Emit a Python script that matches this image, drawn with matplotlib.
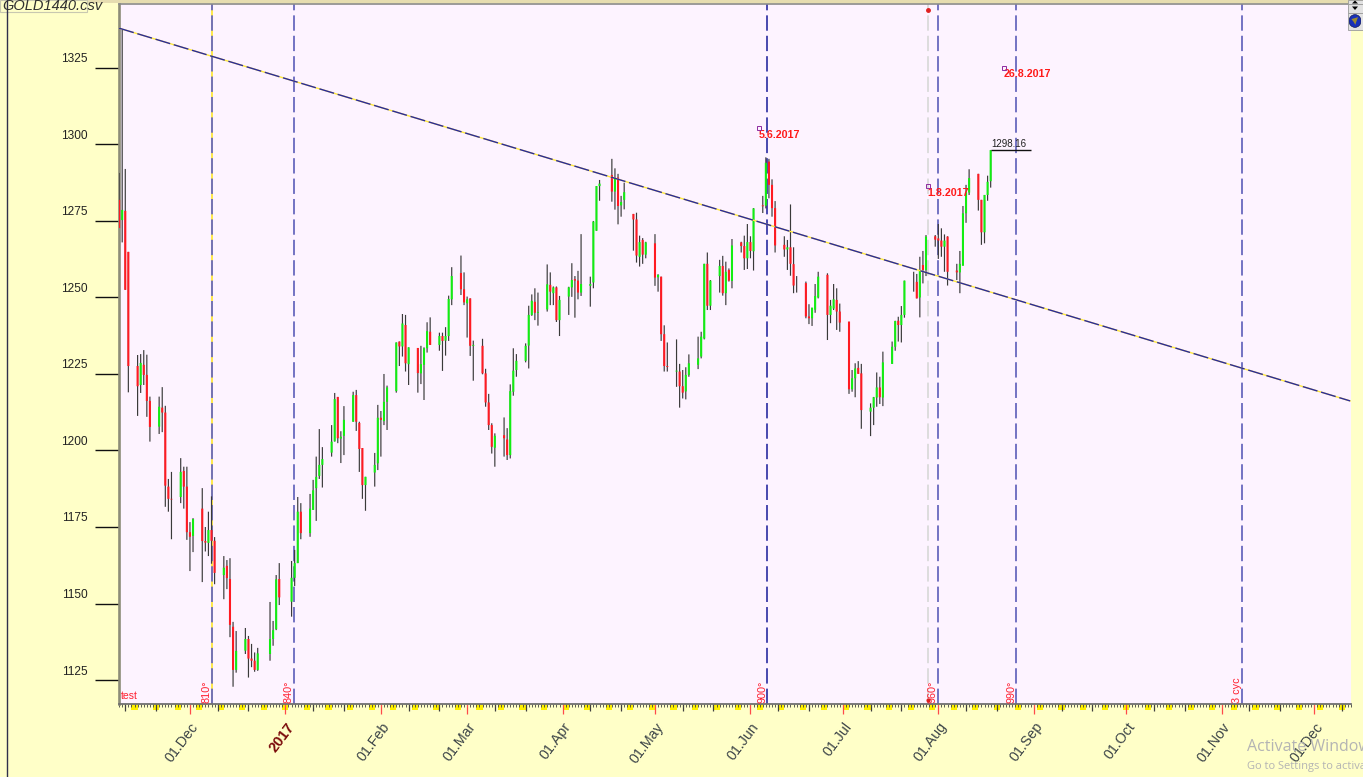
#!/usr/bin/env python3
# -*- coding: utf-8 -*-
import numpy as np
import pandas as pd
import matplotlib
matplotlib.use("Agg")
import matplotlib.pyplot as plt
import matplotlib.dates as mdates
from matplotlib.patches import Rectangle, Circle, Polygon
from matplotlib.transforms import ScaledTranslation

#%% Data, one line per trading week

holidays = ["2016-12-26", "2017-01-02", "2017-04-14"]
dates = pd.bdate_range("2016-11-08", "2017-08-18").drop(pd.to_datetime(holidays))

opens = [
    1281.9, 1275.3, 1278.3, 1264.9,
    1227.6, 1221.4, 1228.0, 1224.7, 1216.2,
    1207.8, 1214.0, 1212.4, 1188.2, 1184.2,
    1184.8, 1193.3, 1188.2, 1173.3, 1172.1,
    1181.0, 1170.4, 1169.8, 1174.0, 1170.5,
    1159.3, 1162.3, 1158.0, 1142.4, 1128.3,
    1134.6, 1138.4, 1132.0, 1131.3, 1128.3,
    1133.5, 1138.4, 1141.6, 1158.0,
    1150.6, 1158.4, 1163.2, 1180.0,
    1173.0, 1180.6, 1187.7, 1191.7, 1195.3,
    1199.3, 1203.0, 1217.5, 1203.9, 1204.8,
    1209.4, 1218.1, 1209.0, 1200.8, 1188.7,
    1192.8, 1195.8, 1210.7, 1209.6, 1215.9,
    1219.4, 1235.6, 1234.0, 1241.0, 1228.2,
    1233.5, 1225.2, 1228.0, 1233.4, 1238.8,
    1234.5, 1237.4, 1235.9, 1237.4, 1249.4,
    1258.0, 1252.7, 1248.1, 1249.7, 1234.2,
    1234.2, 1225.2, 1215.7, 1208.3, 1200.9,
    1205.0, 1203.6, 1198.5, 1219.2, 1226.3,
    1229.3, 1234.3, 1244.3, 1248.6, 1245.0,
    1246.1, 1254.1, 1251.4, 1253.3, 1242.6,
    1250.3, 1253.3, 1256.0, 1255.5, 1251.6,
    1253.8, 1254.9, 1271.8, 1286.4,
    1290.0, 1284.6, 1289.2, 1280.1, 1281.9,
    1277.3, 1275.5, 1263.3, 1268.8, 1264.0,
    1267.7, 1256.6, 1256.8, 1238.0, 1227.6,
    1225.8, 1225.8, 1221.0, 1219.3, 1224.7,
    1228.0, 1230.7, 1236.6, 1261.0, 1247.3,
    1257.0, 1260.3, 1251.4, 1259.0, 1255.4,
    1268.0, 1266.8, 1262.8, 1268.1, 1265.1,
    1280.1, 1280.0, 1294.4, 1286.8, 1279.2,
    1267.2, 1265.7, 1266.4, 1260.9, 1253.9,
    1254.7, 1243.8, 1243.2, 1246.0, 1250.0,
    1257.4, 1244.3, 1246.4, 1249.2, 1245.4,
    1242.1, 1220.0, 1223.6, 1227.0, 1225.2,
    1212.7, 1214.0, 1217.3, 1220.6, 1217.3,
    1228.3, 1233.9, 1242.4, 1241.0, 1244.3,
    1256.0, 1255.1, 1250.0, 1260.6, 1259.0,
    1270.0, 1269.3, 1268.6, 1266.6, 1269.9,
    1258.8, 1258.2, 1260.4, 1277.5, 1284.3,
    1290.4, 1281.9, 1271.3, 1283.5, 1288.0,
]
highs = [
    1290.7, 1337.4, 1292.0, 1264.9,
    1231.2, 1231.5, 1232.8, 1231.3, 1217.6,
    1217.6, 1220.7, 1214.6, 1190.7, 1193.0,
    1197.5, 1194.7, 1194.7, 1176.6, 1177.9,
    1187.7, 1175.0, 1180.0, 1185.0, 1171.7,
    1165.5, 1164.2, 1164.8, 1144.0, 1141.0,
    1142.0, 1139.4, 1136.8, 1134.0, 1135.5,
    1150.5, 1144.3, 1159.3, 1163.2,
    1163.9, 1167.5, 1184.8, 1182.8,
    1185.8, 1190.4, 1198.0, 1207.0, 1201.1,
    1208.3, 1218.8, 1217.5, 1206.3, 1214.5,
    1219.2, 1219.8, 1209.4, 1200.8, 1191.4,
    1199.2, 1214.9, 1212.9, 1225.0, 1221.2,
    1235.3, 1235.6, 1244.6, 1244.3, 1233.7,
    1233.5, 1234.2, 1233.7, 1241.9, 1243.5,
    1238.5, 1238.5, 1240.3, 1250.6, 1259.9,
    1263.7, 1258.2, 1250.3, 1249.7, 1235.9,
    1236.5, 1226.7, 1218.5, 1208.9, 1205.6,
    1210.8, 1207.3, 1221.6, 1233.4, 1231.5,
    1235.0, 1247.3, 1251.0, 1253.0, 1251.6,
    1260.8, 1258.2, 1253.6, 1253.6, 1250.5,
    1253.5, 1261.2, 1257.0, 1258.7, 1270.7,
    1256.8, 1275.0, 1286.4, 1288.4,
    1295.3, 1292.2, 1290.4, 1283.2, 1287.5,
    1277.3, 1277.7, 1270.2, 1269.4, 1268.2,
    1270.7, 1257.6, 1256.8, 1240.9, 1235.3,
    1236.3, 1228.3, 1226.3, 1227.2, 1231.4,
    1237.2, 1238.8, 1261.0, 1264.7, 1255.7,
    1262.3, 1263.6, 1261.7, 1259.5, 1269.1,
    1268.2, 1270.2, 1274.0, 1270.0, 1279.2,
    1283.2, 1295.8, 1295.3, 1288.6, 1281.5,
    1270.0, 1268.8, 1280.4, 1266.4, 1257.0,
    1255.2, 1247.8, 1246.4, 1254.4, 1258.4,
    1257.9, 1249.2, 1254.4, 1253.0, 1248.0,
    1242.1, 1226.3, 1228.5, 1229.2, 1228.3,
    1215.4, 1217.5, 1225.5, 1224.1, 1232.3,
    1235.6, 1242.4, 1243.7, 1247.2, 1255.5,
    1258.4, 1257.7, 1263.3, 1265.2, 1270.4,
    1270.4, 1274.0, 1272.6, 1270.6, 1270.0,
    1261.0, 1265.2, 1279.9, 1286.8, 1291.9,
    1290.4, 1281.9, 1283.5, 1289.8, 1298.2,
]
lows = [
    1272.7, 1268.0, 1252.5, 1219.0,
    1211.3, 1218.8, 1221.4, 1211.0, 1202.9,
    1205.4, 1206.0, 1181.6, 1180.0, 1171.0,
    1182.8, 1181.0, 1170.8, 1160.6, 1166.8,
    1157.0, 1167.0, 1165.5, 1163.0, 1156.3,
    1151.4, 1154.7, 1139.0, 1122.8, 1127.4,
    1133.5, 1125.8, 1129.2, 1127.7, 1128.0,
    1131.3, 1136.2, 1141.3, 1149.5,
    1145.7, 1155.7, 1163.2, 1171.0,
    1171.8, 1180.6, 1177.0, 1190.7, 1187.9,
    1198.0, 1202.9, 1202.4, 1195.9, 1198.5,
    1209.4, 1206.4, 1193.0, 1184.2, 1180.3,
    1188.2, 1193.6, 1198.0, 1208.3, 1206.7,
    1218.9, 1227.6, 1230.7, 1225.8, 1221.4,
    1218.9, 1221.7, 1216.5, 1232.0, 1234.5,
    1232.6, 1226.0, 1231.0, 1235.8, 1247.5,
    1250.8, 1247.5, 1236.9, 1230.9, 1222.8,
    1224.9, 1214.3, 1206.7, 1199.0, 1194.7,
    1198.0, 1196.9, 1197.4, 1217.9, 1224.1,
    1228.8, 1226.8, 1244.0, 1242.6, 1240.8,
    1245.4, 1247.5, 1247.5, 1242.0, 1237.4,
    1244.3, 1250.2, 1243.4, 1249.4, 1250.5,
    1247.0, 1253.0, 1271.8, 1281.6,
    1281.3, 1278.7, 1273.9, 1276.4, 1278.8,
    1265.3, 1261.4, 1260.1, 1261.0, 1262.8,
    1253.8, 1251.9, 1235.8, 1225.8, 1225.8,
    1220.8, 1214.0, 1217.0, 1216.7, 1224.1,
    1226.6, 1230.1, 1236.3, 1245.9, 1245.9,
    1251.6, 1250.6, 1247.5, 1255.2, 1253.0,
    1264.7, 1259.0, 1259.3, 1262.8, 1258.8,
    1277.6, 1279.1, 1282.4, 1276.4, 1264.7,
    1263.3, 1259.0, 1257.1, 1251.4, 1251.6,
    1243.2, 1241.3, 1240.7, 1245.0, 1249.7,
    1236.1, 1241.6, 1245.9, 1239.4, 1238.8,
    1218.5, 1219.2, 1217.4, 1225.3, 1207.1,
    1204.7, 1208.3, 1214.3, 1215.2, 1214.5,
    1228.3, 1232.6, 1235.6, 1235.3, 1243.4,
    1251.9, 1249.7, 1243.5, 1254.6, 1257.0,
    1266.6, 1262.6, 1263.3, 1258.4, 1253.9,
    1255.7, 1251.4, 1260.4, 1274.4, 1283.5,
    1278.4, 1267.2, 1267.7, 1281.6, 1285.9,
]
closes = [
    1272.7, 1278.6, 1252.5, 1227.6,
    1221.0, 1228.6, 1224.7, 1216.2, 1207.7,
    1214.3, 1212.4, 1188.5, 1184.2, 1184.0,
    1193.0, 1188.2, 1173.3, 1171.8, 1177.6,
    1170.4, 1169.9, 1174.0, 1170.5, 1160.0,
    1161.7, 1158.3, 1143.0, 1128.3, 1134.5,
    1138.4, 1132.0, 1131.3, 1128.3, 1133.7,
    1138.4, 1141.3, 1157.9, 1152.0,
    1158.4, 1163.2, 1180.0, 1173.0,
    1181.0, 1187.0, 1191.4, 1195.3, 1197.2,
    1202.9, 1216.8, 1204.0, 1204.5, 1210.0,
    1218.1, 1209.4, 1200.5, 1188.7, 1191.4,
    1195.3, 1210.7, 1210.0, 1215.9, 1220.6,
    1235.3, 1234.0, 1241.5, 1228.5, 1233.7,
    1225.3, 1228.2, 1233.4, 1239.0, 1234.5,
    1237.4, 1235.8, 1237.4, 1249.5, 1257.0,
    1252.7, 1248.4, 1249.4, 1234.2, 1234.5,
    1225.2, 1215.7, 1208.3, 1201.2, 1204.8,
    1204.0, 1198.5, 1219.4, 1226.1, 1229.3,
    1234.2, 1244.3, 1248.9, 1245.0, 1245.3,
    1254.3, 1251.9, 1253.3, 1242.6, 1249.2,
    1253.3, 1255.7, 1255.5, 1251.6, 1254.4,
    1254.4, 1274.8, 1286.4, 1287.2,
    1284.6, 1289.0, 1279.9, 1281.2, 1284.4,
    1275.5, 1263.7, 1268.1, 1264.0, 1268.0,
    1256.5, 1257.4, 1238.0, 1227.6, 1227.3,
    1226.1, 1221.0, 1218.9, 1224.7, 1228.5,
    1230.1, 1237.2, 1261.0, 1247.3, 1255.5,
    1260.3, 1251.4, 1258.4, 1255.5, 1267.0,
    1266.8, 1262.8, 1268.1, 1265.2, 1279.1,
    1279.8, 1294.0, 1286.8, 1279.2, 1267.0,
    1265.7, 1266.4, 1261.0, 1253.9, 1253.9,
    1243.8, 1243.2, 1246.7, 1250.5, 1256.8,
    1244.3, 1247.3, 1249.4, 1245.4, 1241.8,
    1220.0, 1223.6, 1226.8, 1225.0, 1213.2,
    1214.0, 1217.4, 1220.6, 1217.4, 1228.8,
    1233.9, 1242.3, 1241.0, 1244.3, 1255.5,
    1256.0, 1249.7, 1259.0, 1259.0, 1269.9,
    1268.9, 1268.6, 1266.6, 1268.6, 1258.4,
    1258.2, 1261.0, 1277.5, 1284.3, 1289.0,
    1281.9, 1271.3, 1283.5, 1287.8, 1298.16,
]

y_ticks = [1125, 1150, 1175, 1200, 1225, 1250, 1275, 1300, 1325]
month_ticks = ["2016-12-01", "2017-01-01", "2017-02-01", "2017-03-01", "2017-04-01", "2017-05-01",
               "2017-06-01", "2017-07-01", "2017-08-01", "2017-09-01", "2017-10-01", "2017-11-01",
               "2017-12-01"]
month_labels = ["01.Dec", "2017", "01.Feb", "01.Mar", "01.Apr", "01.May", "01.Jun", "01.Jul",
                "01.Aug", "01.Sep", "01.Oct", "01.Nov", "01.Dec"]

# cycle lines and their labels
cycle_dates = ["2016-12-08 03:00", "2017-01-03 18:00", "2017-06-06 12:00", "2017-07-31 20:00",
               "2017-08-26 08:00", "2017-11-07 17:00"]
cycle_labels = ["810°", "840°", "900°", "960°", "990°", "3 cyc"]
pivot_date = "2017-07-28 14:00"

trend_dates = ["2016-11-08", "2017-12-12 17:00"]
trend_prices = [1338.0, 1216.2]

note_texts = ["5.6.2017", "1.8.2017", "26.8.2017"]
note_dates = ["2017-06-03 14:00", "2017-07-28 10:00", "2017-08-22 02:00"]
note_prices = [1303.2, 1284.3, 1323.0]
last_price = 1298.16

#%% Figure

GREY_TEXT = "#3c4448"
LN = ["Liberation Sans Narrow", "Liberation Sans"]
plt.rcParams["font.family"] = ["Liberation Sans", "DejaVu Sans"]


def dnum(d):
    if isinstance(d, str):
        return mdates.date2num(pd.to_datetime(d))
    return mdates.date2num(pd.to_datetime(d, format="mixed"))


def fx(x):
    return x / 1363


def fy(y):
    return 1 - y / 777


fig = plt.figure(figsize=(13.63, 7.77), dpi=100, facecolor="#FFFFC8")
ax = fig.add_axes([fx(119), fy(704), fx(1351) - fx(119), fy(4) - fy(704)], facecolor="#FDF3FF")
ax.set_xlim(dnum("2016-12-01") - 71 / 3.082, dnum("2016-12-01") + 1161 / 3.082)
ax.set_ylim(1117.16, 1345.9)

#%% Bars

x = mdates.date2num(dates)
o = np.array(opens)
c = np.array(closes)
wicks = ax.vlines(x, lows, highs, color="#3a3a3a", lw=0.85, zorder=3)
wicks.set_snap(False)
body_colors = ["#12EE12" if cc >= oo else "#FF1A22" for oo, cc in zip(o, c)]
bodies = ax.vlines(x, o, c, color=body_colors, lw=1.5, zorder=4)
bodies.set_snap(False)
bodies.set_capstyle("butt")

#%% Lines

ax.plot(dnum(trend_dates), trend_prices, color="#FFE93C", lw=1.0, zorder=5)
ax.plot(dnum(trend_dates), trend_prices, color="#2A2A9C", lw=1.0, ls=(0, (11, 2.7)), zorder=5)

for i, (d, lab) in enumerate(zip(cycle_dates, cycle_labels)):
    if i == 0:
        ax.axvline(dnum(d), color="#FFE93C", lw=1.3, zorder=2)
    ax.axvline(dnum(d), color="#6868BE" if i != 2 else "#3A3AA8", lw=1.3, ls=(0, (8.5, 2.8)), zorder=2)
    ax.text(dnum(d), 0.0015, lab, rotation=90, color="#FF2030", fontsize=7.8, ha="right", va="bottom",
            transform=ax.get_xaxis_transform(), zorder=6)
ax.axvline(dnum(pivot_date), color="#DADADA", lw=1.3, ls=(0, (8.5, 2.8)), zorder=2)
ax.plot([dnum(pivot_date)], [1343.8], "o", color="#E02020", ms=2.5, zorder=6)
ax.plot([dnum(pivot_date)], [1118.6], "o", color="#E02020", ms=2.0, zorder=6)

for t, d, p in zip(note_texts, note_dates, note_prices):
    ax.text(dnum(d), p, t, color="#FF1A1A", fontsize=7.7, fontweight="bold", ha="left", va="center", zorder=7)
    ax.plot([dnum(d) + 0.2], [p + 2.1], "s", mfc="none", mec="#8E2AA0", ms=3, mew=0.7, zorder=7)

ax.hlines(last_price, dnum("2017-08-18"), dnum("2017-08-31"), color="#101010", lw=1.0, zorder=5)
ax.text(dnum("2017-08-18") + 0.2, last_price + 0.4, "1298.16", color="#202020", fontsize=7, family=LN,
        ha="left", va="bottom", zorder=6)
ax.text(0.0012, 0.0045, "test", color="#FF2030", fontsize=7.5, transform=ax.transAxes, ha="left", va="bottom")

#%% Axes

for s in ["right"]:
    ax.spines[s].set_visible(False)
ax.spines["left"].set_color("#8C8C78")
ax.spines["left"].set_linewidth(1.9)
ax.spines["bottom"].set_color("#707070")
ax.spines["bottom"].set_linewidth(1.3)
ax.spines["top"].set_color("#8A8A8A")
ax.spines["top"].set_linewidth(1.2)

ax.set_yticks(y_ticks)
ax.set_yticklabels([str(v) for v in y_ticks], fontsize=8.6, family=LN, color="#222222")
ax.tick_params(axis="y", length=17, width=1.0, color="#101010", pad=5.5)
for lab in ax.get_yticklabels():
    lab.set_transform(lab.get_transform() + ScaledTranslation(0, 0.10, fig.dpi_scale_trans))

ax.set_xticks(dnum(month_ticks))
ax.set_xticklabels(month_labels, rotation=53, ha="right", va="center", rotation_mode="anchor", fontsize=10.3, color=GREY_TEXT)
ax.tick_params(axis="x", which="major", length=7.5, width=0.9, color="#FF4A4A", pad=7)
for lab in ax.get_xticklabels():
    lab.set_transform(lab.get_transform() + ScaledTranslation(0.06, 0, fig.dpi_scale_trans))
    if lab.get_text() == "2017":
        lab.set_color("#7A0A0A")
        lab.set_fontweight("bold")
        lab.set_fontsize(10.5)

all_days = pd.date_range("2016-11-08", "2017-12-13")
ax.set_xticks(mdates.date2num(all_days), minor=True)
ax.tick_params(axis="x", which="minor", length=2.2, width=0.6, color="#404040")

tr = ax.get_xaxis_transform()
dec_days = all_days[all_days.day.isin([10, 20])]
ax.vlines(mdates.date2num(dec_days), -7 / 700, 0, transform=tr, clip_on=False, color="#404040", lw=0.9, zorder=1)
for sat in all_days[all_days.dayofweek == 5]:
    ax.add_patch(Rectangle((mdates.date2num(sat), -5.5 / 700), 2, 5.5 / 700, transform=tr, clip_on=False,
                           fc="#FFF000", ec="none", zorder=0))

#%% Window furniture around the chart

fig.add_artist(plt.Line2D([fx(7), fx(7)], [0, 1], color="#30304C", lw=1.0))
fig.add_artist(Rectangle((fx(87), fy(3)), 1 - fx(87), fy(0) - fy(3), transform=fig.transFigure, fc="#E6DDB0", ec="none"))
fig.add_artist(Rectangle((0, fy(12)), fx(87), fy(0) - fy(12), transform=fig.transFigure, fc="#FFFFC8", ec="#C8C8B0", lw=0.8))
fig.text(fx(2), fy(10), "GOLD1440.csv", fontsize=10.5, fontstyle="italic", family=LN, color="#303030", ha="left", va="baseline")

for y0, y1 in [(0, 4), (4, 13), (13, 30)]:
    fig.add_artist(Rectangle((fx(1348), fy(y1)), 1 - fx(1348), fy(y0) - fy(y1), transform=fig.transFigure,
                             fc="#E2E2E2", ec="#9A9A9A", lw=0.6))
fig.add_artist(Polygon([(fx(1352), fy(3.5)), (fx(1358), fy(3.5)), (fx(1355), fy(0.5))], transform=fig.transFigure, fc="black"))
fig.add_artist(Polygon([(fx(1352), fy(6.5)), (fx(1358), fy(6.5)), (fx(1355), fy(10))], transform=fig.transFigure, fc="black"))
globe_ax = fig.add_axes([fx(1349), fy(28), 12 / 1363, 14 / 777])
globe_ax.set_zorder(5)
globe_ax.set_xlim(-1, 1)
globe_ax.set_ylim(-1.1, 1.1)
globe_ax.axis("off")
globe_ax.add_patch(Circle((0, 0), 1, fc="#1830B8", ec="#101858", lw=0.5))
globe_ax.add_patch(Polygon([(-0.6, 0.3), (0.5, 0.6), (0.3, 0.1), (0.05, -0.6), (-0.25, -0.1)], fc="#9A8A30", ec="none"))

fig.text(fx(1247), fy(751), "Activate Windows", fontsize=11.5, color="#B4B4B4", family="Open Sans", ha="left", va="baseline")
fig.text(fx(1247), fy(769), "Go to Settings to activate Windows.", fontsize=8, color="#B4B4B4", family="Open Sans", ha="left", va="baseline")

fig.savefig("out.png", dpi=100, facecolor=fig.get_facecolor())
